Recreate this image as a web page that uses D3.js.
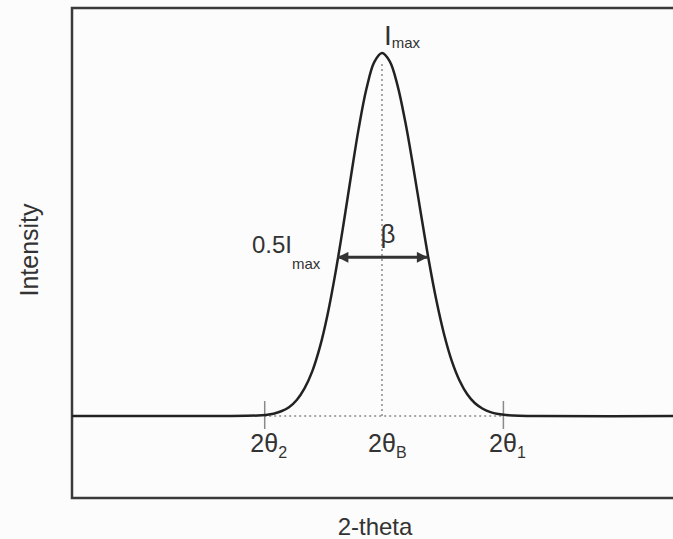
<!DOCTYPE html>
<html>
<head>
<meta charset="utf-8">
<script src="https://cdn.jsdelivr.net/npm/d3@7"></script>
<style>
  body { margin: 0; background: #fcfcfc; }
  text { font-family: "Liberation Sans", Arial, sans-serif; fill: #333; }
</style>
</head>
<body>
<svg id="chart"></svg>
<script>
// diffraction peak (2-theta in degrees, intensity in % of Imax)
const twoTheta = [20, 25, 26, 26.25, 26.5, 26.75, 27, 27.25, 27.5, 27.75, 28, 28.25, 28.5, 28.75, 29, 29.25, 29.5, 29.75,
    30, 30.25, 30.5, 30.75, 31, 31.25, 31.5, 31.75, 32, 32.25, 32.5, 32.75, 33, 33.25, 33.5, 33.75, 34, 35, 40];
const intensity = [0, 0, 0.13, 0.3, 0.63, 1.3, 2.4, 4.4, 7.6, 12.3, 19.1, 28.2, 39.5, 52.4, 66.1, 79.3, 90.2, 97.5,
    100, 97.7, 91.1, 81.1, 69.0, 56.0, 43.3, 32.0, 22.6, 15.2, 9.8, 6.0, 3.5, 2.0, 1.05, 0.54, 0.26, 0, 0];

const peakPos = 30;           // 2θB
const halfLevel = 43.7;       // where the β arrow is drawn
const halfEnds = [28.56, 31.48];
const tickValues = [26.2, 30, 33.9];
const tickMain = ["2θ", "2θ", "2θ"];
const tickSub = ["2", "B", "1"];
const tickShown = [true, false, true];

const width = 673, height = 539;
const svg = d3.select("#chart").attr("width", width).attr("height", height);

const x = d3.scaleLinear().domain([20, 40]).range([72, 692]);
const y = d3.scaleLinear().domain([0, 100]).range([416, 53]);

// frame (right side runs off the page like in the scan)
svg.append("path")
    .attr("d", "M700,8 L72,8 L72,498 L700,498")
    .attr("fill", "none")
    .attr("stroke", "#3a3a3a")
    .attr("stroke-width", 2.5);

// dotted guides
svg.append("line")
    .attr("x1", x(tickValues[0])).attr("x2", x(tickValues[2]))
    .attr("y1", y(0)).attr("y2", y(0))
    .attr("stroke", "#888").attr("stroke-width", 1.5)
    .attr("stroke-dasharray", "2,3");
svg.append("line")
    .attr("x1", x(peakPos)).attr("x2", x(peakPos))
    .attr("y1", y(97)).attr("y2", y(0))
    .attr("stroke", "#888").attr("stroke-width", 1.5)
    .attr("stroke-dasharray", "2,3");

// ticks on the baseline
const axis = d3.axisBottom(x)
    .tickValues(tickValues)
    .tickSizeInner(28)
    .tickSizeOuter(0)
    .tickFormat("");
const gAxis = svg.append("g")
    .attr("transform", `translate(0,${y(0) - 15})`)
    .call(axis);
gAxis.select(".domain").remove();
gAxis.selectAll(".tick line")
    .attr("stroke", "#8a8a8a")
    .attr("stroke-width", 1.5)
    .attr("opacity", (d, i) => tickShown[i] ? 1 : 0);

// tick labels with subscripts
tickValues.forEach((v, i) => {
    svg.append("text")
        .attr("x", x(v))
        .attr("y", 452)
        .attr("text-anchor", "middle")
        .attr("font-size", "25px")
        .text(tickMain[i]);
    svg.append("text")
        .attr("x", x(v) + 14)
        .attr("y", 458)
        .attr("font-size", "16px")
        .text(tickSub[i]);
});

// the peak
const line = d3.line()
    .x((d, i) => x(twoTheta[i]))
    .y(d => y(d))
    .curve(d3.curveCatmullRom);
svg.append("path")
    .datum(intensity)
    .attr("d", line)
    .attr("fill", "none")
    .attr("stroke", "#222")
    .attr("stroke-width", 2.5);

// β arrow at half maximum
const defs = svg.append("defs");
defs.append("marker")
    .attr("id", "head")
    .attr("viewBox", "0 0 10 10")
    .attr("refX", 10).attr("refY", 5)
    .attr("markerWidth", 14).attr("markerHeight", 11)
    .attr("markerUnits", "userSpaceOnUse")
    .attr("orient", "auto-start-reverse")
    .append("path")
    .attr("d", "M0,0 L10,5 L0,10 z")
    .attr("fill", "#333");
svg.append("line")
    .attr("x1", x(halfEnds[0])).attr("x2", x(halfEnds[1]))
    .attr("y1", y(halfLevel)).attr("y2", y(halfLevel))
    .attr("stroke", "#333").attr("stroke-width", 3)
    .attr("marker-start", "url(#head)")
    .attr("marker-end", "url(#head)");

svg.append("text")
    .attr("x", x(peakPos) + 6)
    .attr("y", y(halfLevel) - 14)
    .attr("text-anchor", "middle")
    .attr("font-size", "26px")
    .text("β");

// 0.5Imax label
const halfLabel = svg.append("text")
    .attr("x", 252)
    .attr("y", 253)
    .attr("font-size", "24px");
halfLabel.append("tspan").text("0.5I");
halfLabel.append("tspan").attr("dy", 16).attr("font-size", "15px").text("max");

// Imax label
const peakLabel = svg.append("text")
    .attr("x", 384)
    .attr("y", 45)
    .attr("font-size", "28px");
peakLabel.append("tspan").text("I");
peakLabel.append("tspan").attr("dy", 3).attr("font-size", "15px").text("max");

// axis titles
svg.append("text")
    .attr("x", 375)
    .attr("y", 535)
    .attr("text-anchor", "middle")
    .attr("font-size", "24px")
    .text("2-theta");
svg.append("text")
    .attr("transform", "translate(38,250) rotate(-90)")
    .attr("text-anchor", "middle")
    .attr("font-size", "25px")
    .text("Intensity");
</script>
</body>
</html>
